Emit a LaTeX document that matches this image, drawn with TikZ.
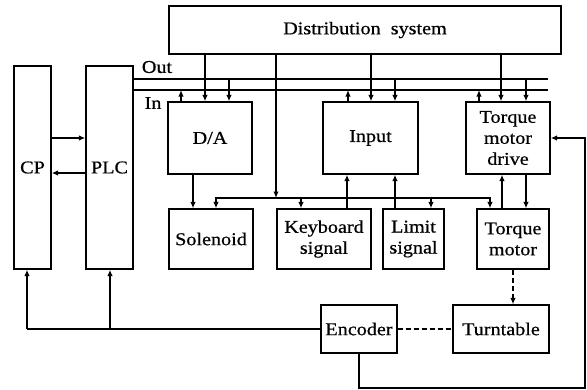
\documentclass[tikz,border=0pt]{standalone}
\usepackage{fontspec}
\setmainfont{Liberation Serif}[FakeStretch=1.12,FakeBold=0.6]
\usepackage{tikz}
\usetikzlibrary{arrows,arrows.meta}
\tikzstyle{block}=[draw,shape=rectangle,line width=1.3pt,inner sep=1pt,align=center,font=\fontsize{18}{21}\selectfont]
\tikzstyle{buslabel}=[inner sep=0pt,font=\fontsize{18}{21}\selectfont]

\begin{document}
\begin{tikzpicture}[x=1pt,y=-1pt,>={Latex[length=6.5pt,width=5.5pt]},line width=1.3pt]
\tikzset{dashline/.style={dash pattern=on 5pt off 3pt}}
\useasboundingbox (0,0) rectangle (587,389);

\node[block,minimum width=392pt,minimum height=48pt](dist) at (365,30){Distribution\ \ system};
\node[block,minimum width=37pt,minimum height=203pt](cp) at (32.5,167.5){CP};
\node[block,minimum width=47pt,minimum height=203pt](plc) at (109.5,167.5){PLC};

\node[block,minimum width=84pt,minimum height=72pt](da) at (210,138){D/A};
\node[block,minimum width=95pt,minimum height=72pt](input) at (370.5,138){Input};
\node[block,minimum width=84pt,minimum height=72pt](tmd) at (508,138){Torque\\motor\\drive};

\node[block,minimum width=84pt,minimum height=60pt](sol) at (211,239){Solenoid};
\node[block,minimum width=94pt,minimum height=60pt](kbd) at (324,239){Keyboard\\signal};
\node[block,minimum width=61pt,minimum height=60pt](lim) at (413.5,239){Limit\\signal};
\node[block,minimum width=72pt,minimum height=60pt](tm) at (513,239){Torque\\motor};

\node[block,minimum width=76pt,minimum height=48pt](enc) at (359,329){Encoder};
\node[block,minimum width=96pt,minimum height=48pt](turn) at (501,329){Turntable};

% CP <-> PLC
\draw[->] (cp.east |- 0,138) -- (plc.west |- 0,138);
\draw[->] (plc.west |- 0,173) -- (cp.east |- 0,173);

% Out / In buses
\coordinate (outend) at (548,79);
\coordinate (inend) at (548,90);
\draw (plc.east |- outend) -- (outend);
\draw (plc.east |- inend) -- (inend);
\node[buslabel](outlbl) at (157,67){Out};
\node[buslabel](inlbl) at (153,103){In};

\draw[->] (181,0 |- da.north) -- (181,0 |- inend);
\draw[->] (205,0 |- dist.south) -- (205,0 |- da.north);
\draw[->] (229,0 |- outend) -- (229,0 |- da.north);

\draw[->] (348,0 |- input.north) -- (348,0 |- inend);
\draw[->] (371,0 |- dist.south) -- (371,0 |- input.north);
\draw[->] (395,0 |- outend) -- (395,0 |- input.north);

\draw[->] (479,0 |- tmd.north) -- (479,0 |- inend);
\draw[->] (501,0 |- dist.south) -- (501,0 |- tmd.north);
\draw[->] (526,0 |- outend) -- (526,0 |- tmd.north);

% signal bus
\coordinate (sigbus) at (276,198);
\draw[->] (276,0 |- dist.south) -- (sigbus);
\draw[->] (sigbus) -| (216,0 |- sol.north);
\draw[->] (sigbus) -| (490,0 |- tm.north);
\draw[->] (301,198) -- (301,0 |- kbd.north);
\draw[->] (431,198) -- (431,0 |- lim.north);
\draw[->] (193,0 |- da.south) -- (193,0 |- sol.north);

\draw[->] (347,0 |- kbd.north) -- (347,0 |- input.south);
\draw[->] (395,0 |- lim.north) -- (395,0 |- input.south);

\draw[->] (502,0 |- tm.north) -- (502,0 |- tmd.south);
\draw[->] (526,0 |- tmd.south) -- (526,0 |- tm.north);

\draw[->,dashline] (513,0 |- tm.south) -- (513,0 |- turn.north);
\draw[dashline] (enc) -- (turn);

% feedback
\coordinate (fb) at (27,329);
\draw (enc.west) -- (fb);
\draw[->] (fb) -- (fb |- cp.south);
\draw[->] (110,329) -- (110,0 |- plc.south);
\draw[->] (enc.south) -- (359,388) -- (585,388) -- (585,138) -- (tmd.east);

\end{tikzpicture}
\end{document}
